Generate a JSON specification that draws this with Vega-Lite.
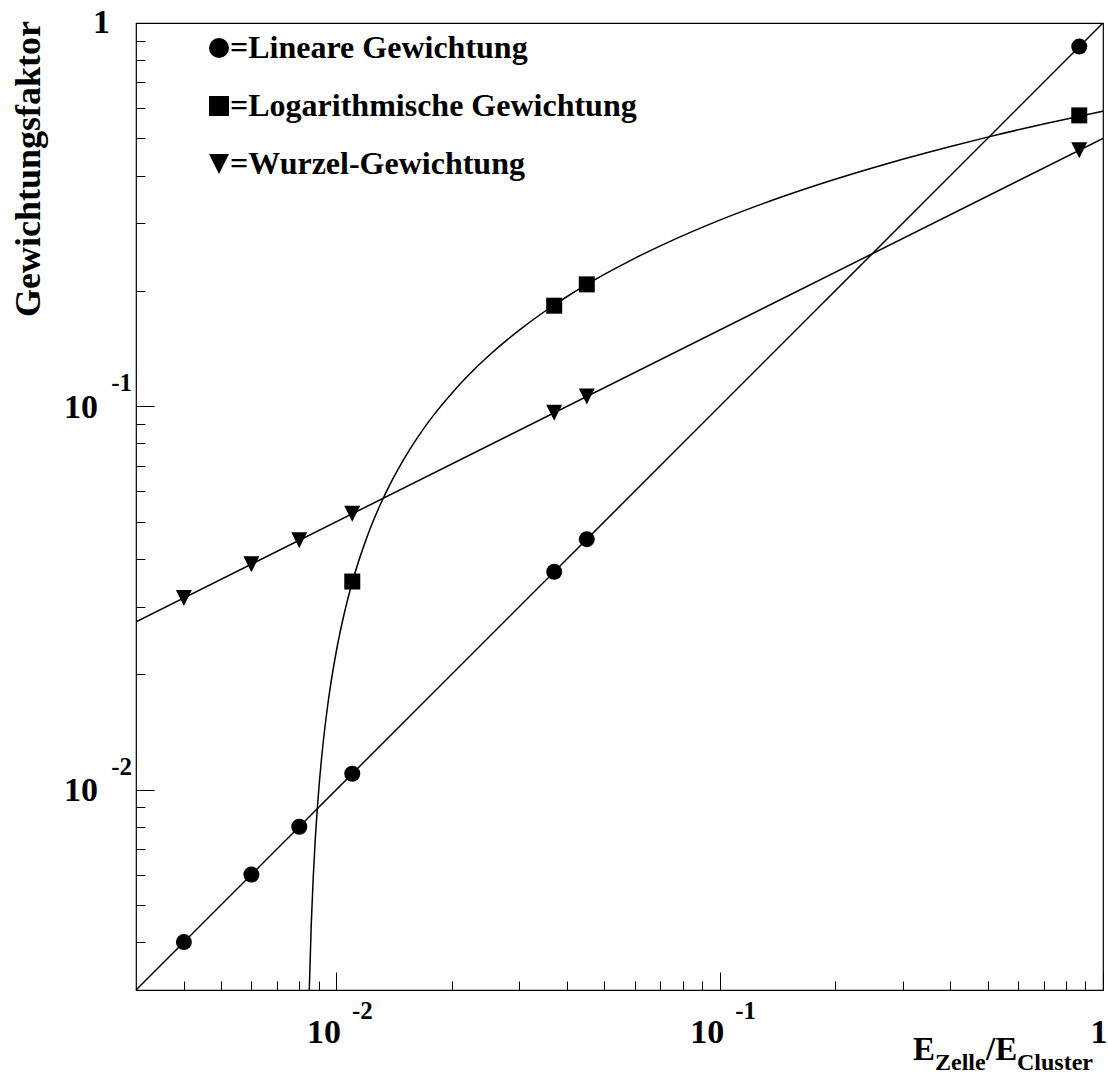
{
  "$schema": "https://vega.github.io/schema/vega-lite/v6.json",
  "width": 967,
  "height": 967,
  "autosize": {"type": "none"},
  "padding": {"left": 136, "top": 23, "right": 5, "bottom": 90},
  "background": "white",
  "config": {
    "view": {"stroke": "black", "strokeWidth": 1.2},
    "font": "Liberation Serif",
    "axis": {"grid": false, "labels": false, "domain": false, "title": null, "tickColor": "black", "tickWidth": 1}
  },
  "datasets": {
    "curves": [
      {"series": "Lineare Gewichtung", "x": 0.003, "y": 0.003},
      {"series": "Lineare Gewichtung", "x": 1, "y": 1},
      {"series": "Wurzel-Gewichtung", "x": 0.003, "y": 0.027386},
      {"series": "Wurzel-Gewichtung", "x": 1, "y": 0.5},
      {"series": "Logarithmische Gewichtung", "x": 0.00848, "y": 0.002761},
      {"series": "Logarithmische Gewichtung", "x": 0.0085, "y": 0.003051},
      {"series": "Logarithmische Gewichtung", "x": 0.0086, "y": 0.004488},
      {"series": "Logarithmische Gewichtung", "x": 0.0087, "y": 0.005909},
      {"series": "Logarithmische Gewichtung", "x": 0.0088, "y": 0.007314},
      {"series": "Logarithmische Gewichtung", "x": 0.009, "y": 0.010076},
      {"series": "Logarithmische Gewichtung", "x": 0.0092, "y": 0.012777},
      {"series": "Logarithmische Gewichtung", "x": 0.0095, "y": 0.016721},
      {"series": "Logarithmische Gewichtung", "x": 0.01, "y": 0.023025},
      {"series": "Logarithmische Gewichtung", "x": 0.0105, "y": 0.029021},
      {"series": "Logarithmische Gewichtung", "x": 0.011, "y": 0.034738},
      {"series": "Logarithmische Gewichtung", "x": 0.012, "y": 0.045432},
      {"series": "Logarithmische Gewichtung", "x": 0.013, "y": 0.055269},
      {"series": "Logarithmische Gewichtung", "x": 0.014, "y": 0.064377},
      {"series": "Logarithmische Gewichtung", "x": 0.015, "y": 0.072856},
      {"series": "Logarithmische Gewichtung", "x": 0.016, "y": 0.080788},
      {"series": "Logarithmische Gewichtung", "x": 0.017, "y": 0.088239},
      {"series": "Logarithmische Gewichtung", "x": 0.018, "y": 0.095264},
      {"series": "Logarithmische Gewichtung", "x": 0.02, "y": 0.108212},
      {"series": "Logarithmische Gewichtung", "x": 0.022, "y": 0.119926},
      {"series": "Logarithmische Gewichtung", "x": 0.025, "y": 0.135637},
      {"series": "Logarithmische Gewichtung", "x": 0.03, "y": 0.158044},
      {"series": "Logarithmische Gewichtung", "x": 0.035, "y": 0.176989},
      {"series": "Logarithmische Gewichtung", "x": 0.04, "y": 0.1934},
      {"series": "Logarithmische Gewichtung", "x": 0.05, "y": 0.220825},
      {"series": "Logarithmische Gewichtung", "x": 0.06, "y": 0.243232},
      {"series": "Logarithmische Gewichtung", "x": 0.07, "y": 0.262177},
      {"series": "Logarithmische Gewichtung", "x": 0.085, "y": 0.286039},
      {"series": "Logarithmische Gewichtung", "x": 0.1, "y": 0.306012},
      {"series": "Logarithmische Gewichtung", "x": 0.12, "y": 0.32842},
      {"series": "Logarithmische Gewichtung", "x": 0.15, "y": 0.355844},
      {"series": "Logarithmische Gewichtung", "x": 0.2, "y": 0.3912},
      {"series": "Logarithmische Gewichtung", "x": 0.25, "y": 0.418624},
      {"series": "Logarithmische Gewichtung", "x": 0.3, "y": 0.441032},
      {"series": "Logarithmische Gewichtung", "x": 0.4, "y": 0.476388},
      {"series": "Logarithmische Gewichtung", "x": 0.5, "y": 0.503812},
      {"series": "Logarithmische Gewichtung", "x": 0.7, "y": 0.545165},
      {"series": "Logarithmische Gewichtung", "x": 1, "y": 0.589}
    ],
    "points": [
      {"series": "Lineare Gewichtung", "x": 0.004, "y": 0.004},
      {"series": "Lineare Gewichtung", "x": 0.006, "y": 0.006},
      {"series": "Lineare Gewichtung", "x": 0.008, "y": 0.008},
      {"series": "Lineare Gewichtung", "x": 0.011, "y": 0.011},
      {"series": "Lineare Gewichtung", "x": 0.037, "y": 0.037},
      {"series": "Lineare Gewichtung", "x": 0.045, "y": 0.045},
      {"series": "Lineare Gewichtung", "x": 0.867, "y": 0.868},
      {"series": "Logarithmische Gewichtung", "x": 0.011, "y": 0.0349},
      {"series": "Logarithmische Gewichtung", "x": 0.037, "y": 0.183},
      {"series": "Logarithmische Gewichtung", "x": 0.045, "y": 0.208},
      {"series": "Logarithmische Gewichtung", "x": 0.867, "y": 0.574},
      {"series": "Wurzel-Gewichtung", "x": 0.004, "y": 0.03162},
      {"series": "Wurzel-Gewichtung", "x": 0.006, "y": 0.03873},
      {"series": "Wurzel-Gewichtung", "x": 0.008, "y": 0.04472},
      {"series": "Wurzel-Gewichtung", "x": 0.011, "y": 0.05244},
      {"series": "Wurzel-Gewichtung", "x": 0.037, "y": 0.09618},
      {"series": "Wurzel-Gewichtung", "x": 0.045, "y": 0.10607},
      {"series": "Wurzel-Gewichtung", "x": 0.867, "y": 0.46557}
    ],
    "ticklabels": [
      {"v": 0.01, "t": "10", "e": "-2"},
      {"v": 0.1, "t": "10", "e": "-1"},
      {"v": 1, "t": "1", "e": ""}
    ],
    "one": [{"k": 1}]
  },
  "layer": [
    {
      "data": {"name": "curves"},
      "mark": {"type": "line", "color": "black", "strokeWidth": 1.5, "clip": true, "interpolate": "monotone"},
      "encoding": {
        "x": {
          "field": "x", "type": "quantitative",
          "scale": {"type": "log", "domain": [0.003, 1], "nice": false},
          "axis": {
            "orient": "bottom",
            "values": [0.004, 0.005, 0.006, 0.007, 0.008, 0.009, 0.01, 0.02, 0.03, 0.04, 0.05, 0.06, 0.07, 0.08, 0.09, 0.1, 0.2, 0.3, 0.4, 0.5, 0.6, 0.7, 0.8, 0.9, 1],
            "tickSize": {"condition": {"test": "datum.value == 0.01 || datum.value == 0.1 || datum.value == 1", "value": -18}, "value": -9}
          }
        },
        "y": {
          "field": "y", "type": "quantitative",
          "scale": {"type": "log", "domain": [0.003, 1], "nice": false},
          "axis": {
            "orient": "left",
            "values": [0.004, 0.005, 0.006, 0.007, 0.008, 0.009, 0.01, 0.02, 0.03, 0.04, 0.05, 0.06, 0.07, 0.08, 0.09, 0.1, 0.2, 0.3, 0.4, 0.5, 0.6, 0.7, 0.8, 0.9, 1],
            "tickSize": {"condition": {"test": "datum.value == 0.01 || datum.value == 0.1 || datum.value == 1", "value": -18}, "value": -9}
          }
        },
        "detail": {"field": "series", "type": "nominal"}
      }
    },
    {
      "data": {"name": "points"},
      "mark": {"type": "point", "filled": true, "color": "black", "size": 256, "opacity": 1},
      "encoding": {
        "x": {"field": "x", "type": "quantitative"},
        "y": {"field": "y", "type": "quantitative"},
        "shape": {
          "field": "series", "type": "nominal",
          "scale": {
            "domain": ["Lineare Gewichtung", "Logarithmische Gewichtung", "Wurzel-Gewichtung"],
            "range": ["circle", "square", "M-1,-1L1,-1L0,1Z"]
          },
          "legend": {
            "title": null, "orient": "none", "legendX": 67, "legendY": 9,
            "symbolSize": 400, "symbolFillColor": "black", "symbolStrokeWidth": 0, "symbolOpacity": 1,
            "labelFont": "Liberation Serif", "labelFontWeight": "bold", "labelFontSize": 32,
            "labelColor": "black", "labelOffset": -5, "rowPadding": 26, "padding": 0,
            "labelLimit": 1000, "labelExpr": "'=' + datum.label"
          }
        }
      }
    },
    {
      "data": {"name": "ticklabels"},
      "mark": {"type": "text", "align": "right", "baseline": "alphabetic", "dx": 4.5, "dy": 53, "font": "Liberation Serif", "fontWeight": "bold", "fontSize": 34, "color": "black"},
      "encoding": {
        "x": {"field": "v", "type": "quantitative"},
        "y": {"datum": 0.003, "type": "quantitative"},
        "text": {"field": "t"}
      }
    },
    {
      "data": {"name": "ticklabels"},
      "mark": {"type": "text", "align": "left", "baseline": "alphabetic", "dx": 15.5, "dy": 29, "font": "Liberation Serif", "fontWeight": "bold", "fontSize": 25, "color": "black"},
      "encoding": {
        "x": {"field": "v", "type": "quantitative"},
        "y": {"datum": 0.003, "type": "quantitative"},
        "text": {"field": "e"}
      }
    },
    {
      "data": {"name": "ticklabels"},
      "transform": [{"filter": "datum.v < 1"}],
      "mark": {"type": "text", "align": "right", "baseline": "alphabetic", "dx": -38, "dy": 11.5, "font": "Liberation Serif", "fontWeight": "bold", "fontSize": 34, "color": "black"},
      "encoding": {
        "y": {"field": "v", "type": "quantitative"},
        "x": {"datum": 0.003, "type": "quantitative"},
        "text": {"field": "t"}
      }
    },
    {
      "data": {"name": "ticklabels"},
      "transform": [{"filter": "datum.v >= 1"}],
      "mark": {"type": "text", "align": "right", "baseline": "alphabetic", "dx": -26, "dy": 10, "font": "Liberation Serif", "fontWeight": "bold", "fontSize": 34, "color": "black"},
      "encoding": {
        "y": {"field": "v", "type": "quantitative"},
        "x": {"datum": 0.003, "type": "quantitative"},
        "text": {"field": "t"}
      }
    },
    {
      "data": {"name": "ticklabels"},
      "mark": {"type": "text", "align": "right", "baseline": "alphabetic", "dx": -4, "dy": -15, "font": "Liberation Serif", "fontWeight": "bold", "fontSize": 25, "color": "black"},
      "encoding": {
        "y": {"field": "v", "type": "quantitative"},
        "x": {"datum": 0.003, "type": "quantitative"},
        "text": {"field": "e"}
      }
    },
    {
      "data": {"name": "one"},
      "mark": {"type": "text", "text": "Gewichtungsfaktor", "angle": 270, "align": "right", "baseline": "alphabetic", "dx": 2, "dy": -96, "font": "Liberation Serif", "fontWeight": "bold", "fontSize": 36, "color": "black"},
      "encoding": {
        "x": {"datum": 0.003, "type": "quantitative"},
        "y": {"datum": 1, "type": "quantitative"}
      }
    },
    {
      "data": {"name": "one"},
      "mark": {"type": "text", "text": "E", "align": "left", "baseline": "alphabetic", "dx": -190, "dy": 70, "font": "Liberation Serif", "fontWeight": "bold", "fontSize": 33, "color": "black"},
      "encoding": {
        "x": {"datum": 1, "type": "quantitative"},
        "y": {"datum": 0.003, "type": "quantitative"}
      }
    },
    {
      "data": {"name": "one"},
      "mark": {"type": "text", "text": "Zelle", "align": "left", "baseline": "alphabetic", "dx": -168, "dy": 80, "font": "Liberation Serif", "fontWeight": "bold", "fontSize": 24, "color": "black"},
      "encoding": {
        "x": {"datum": 1, "type": "quantitative"},
        "y": {"datum": 0.003, "type": "quantitative"}
      }
    },
    {
      "data": {"name": "one"},
      "mark": {"type": "text", "text": "/E", "align": "left", "baseline": "alphabetic", "dx": -117, "dy": 70, "font": "Liberation Serif", "fontWeight": "bold", "fontSize": 33, "color": "black"},
      "encoding": {
        "x": {"datum": 1, "type": "quantitative"},
        "y": {"datum": 0.003, "type": "quantitative"}
      }
    },
    {
      "data": {"name": "one"},
      "mark": {"type": "text", "text": "Cluster", "align": "left", "baseline": "alphabetic", "dx": -86, "dy": 80, "font": "Liberation Serif", "fontWeight": "bold", "fontSize": 24, "color": "black"},
      "encoding": {
        "x": {"datum": 1, "type": "quantitative"},
        "y": {"datum": 0.003, "type": "quantitative"}
      }
    }
  ]
}
